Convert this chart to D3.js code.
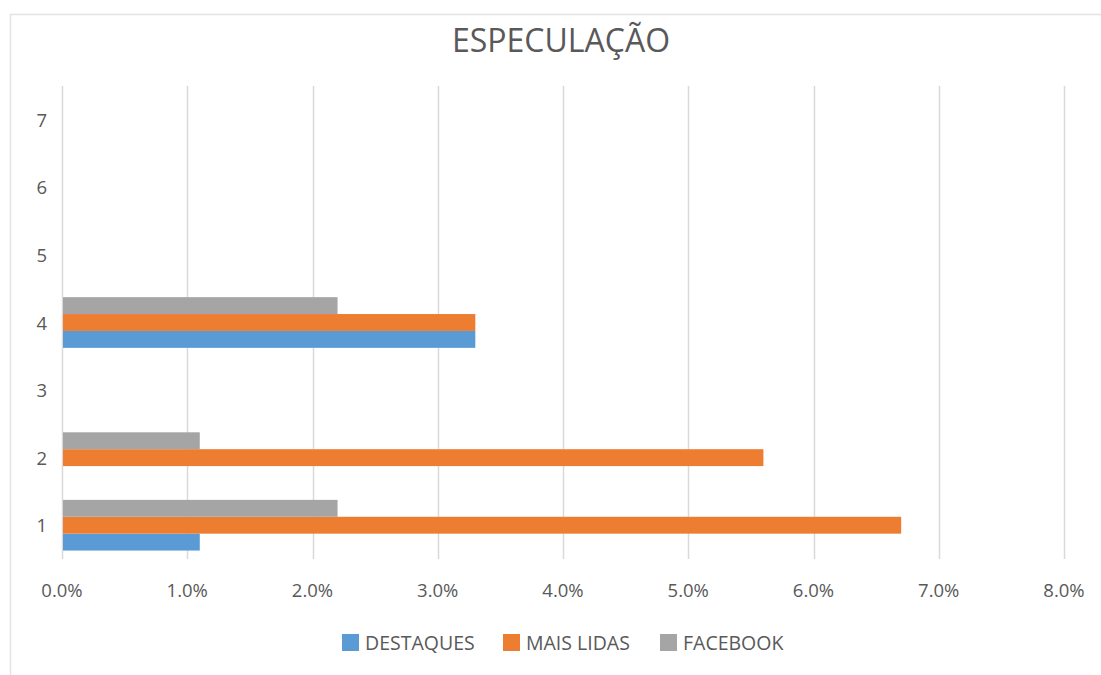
<!DOCTYPE html>
<html>
<head>
<meta charset="utf-8">
<script src="https://cdn.jsdelivr.net/npm/d3@7"></script>
<style>
  body { margin: 0; background: #fff; }
  svg text { font-family: "Open Sans", Lato, sans-serif; fill: #595959; }
</style>
</head>
<body>
<div id="chart"></div>
<script>
// categories (bottom to top) and series values in percent
const categories = ["1", "2", "3", "4", "5", "6", "7"];
const seriesNames = ["DESTAQUES", "MAIS LIDAS", "FACEBOOK"];
const destaques = [1.1, 0, 0, 3.3, 0, 0, 0];
const maisLidas = [6.7, 5.6, 0, 3.3, 0, 0, 0];
const facebook = [2.2, 1.1, 0, 2.2, 0, 0, 0];
const xTicks = [0, 1, 2, 3, 4, 5, 6, 7, 8];
const colors = ["#5b9bd5", "#ed7d31", "#a5a5a5"];
const title = "ESPECULAÇÃO";

function draw() {
    const width = 1101, height = 675;
    const plot = { left: 62, right: 1064, top: 86, bottom: 559 };

    const svg = d3.select("#chart").append("svg")
        .attr("width", width)
        .attr("height", height);

    // chart area border (top and left visible)
    svg.append("path")
        .attr("d", `M10.5,${height} V14.5 H${width}`)
        .attr("fill", "none")
        .attr("stroke", "#e3e3e3")
        .attr("stroke-width", 1.5);

    svg.append("text")
        .attr("x", 561)
        .attr("y", 52)
        .attr("text-anchor", "middle")
        .style("font-size", "32px")
        .text(title);

    const x = d3.scaleLinear().domain([0, 8]).range([plot.left, plot.right]);
    const y = d3.scaleBand().domain(categories.slice().reverse())
        .range([plot.top, plot.bottom]);
    // gap between groups equals one bar width
    const inner = d3.scaleBand().domain([2, 1, 0])
        .range([0, y.bandwidth()]).paddingOuter(0.5).paddingInner(0);

    // gridlines
    svg.append("g").selectAll("line")
        .data(xTicks)
        .enter().append("line")
        .attr("x1", d => Math.round(x(d)) + 0.5)
        .attr("x2", d => Math.round(x(d)) + 0.5)
        .attr("y1", plot.top)
        .attr("y2", plot.bottom)
        .attr("stroke", "#d9d9d9")
        .attr("stroke-width", 1.5);

    // x tick labels
    svg.append("g").selectAll("text")
        .data(xTicks)
        .enter().append("text")
        .attr("x", d => x(d))
        .attr("y", 597)
        .attr("text-anchor", "middle")
        .style("font-size", "18.5px")
        .text(d => d3.format(".1f")(d) + "%");

    // y tick labels
    svg.append("g").selectAll("text")
        .data(categories)
        .enter().append("text")
        .attr("x", 47)
        .attr("y", d => y(d) + y.bandwidth() / 2 + 7)
        .attr("text-anchor", "end")
        .style("font-size", "18.5px")
        .text(d => d);

    const allSeries = [destaques, maisLidas, facebook];
    allSeries.forEach((vals, s) => {
        svg.append("g").selectAll("rect")
            .data(vals.map((v, i) => ({ cat: categories[i], v: v })).filter(d => d.v > 0))
            .enter().append("rect")
            .attr("x", x(0) + 1)
            .attr("y", d => y(d.cat) + inner(s))
            .attr("width", d => x(d.v) - x(0) - 1)
            .attr("height", inner.bandwidth())
            .attr("fill", colors[s]);
    });

    // legend
    const legendX = [342, 503, 660];
    const legend = svg.append("g").selectAll("g")
        .data(seriesNames)
        .enter().append("g")
        .attr("transform", (d, i) => `translate(${legendX[i]},634)`);
    legend.append("rect")
        .attr("width", 17)
        .attr("height", 17)
        .attr("fill", (d, i) => colors[i]);
    legend.append("text")
        .attr("x", 23)
        .attr("y", 16)
        .style("font-size", "19.5px")
        .text(d => d);
}

document.addEventListener('DOMContentLoaded', draw);
</script>
</body>
</html>
